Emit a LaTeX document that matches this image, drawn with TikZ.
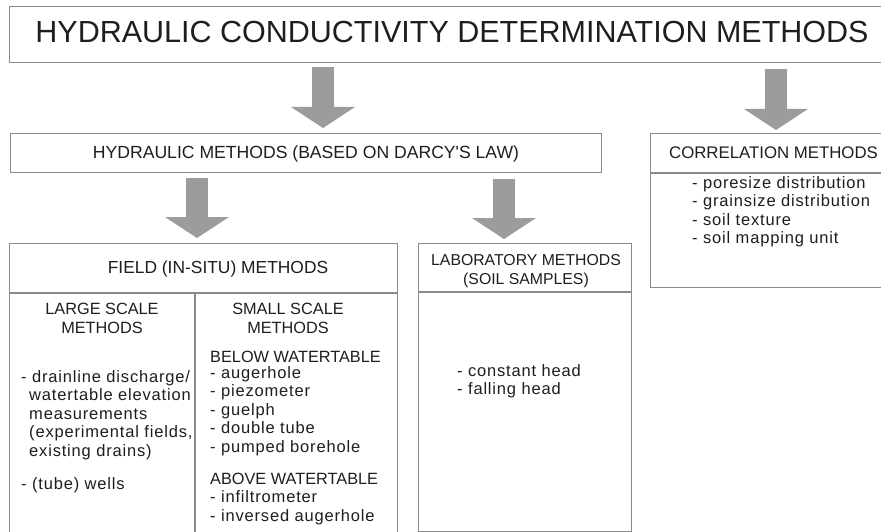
\documentclass[tikz,border=0pt]{standalone}
\usepackage{fontspec}
\setmainfont{Liberation Sans}
\newfontfamily\itemfont[LetterSpace=5]{Liberation Sans}
\usetikzlibrary{arrows.meta}
\definecolor{linegray}{HTML}{8A8A8A}
\definecolor{arrowgray}{HTML}{9C9C9C}
\definecolor{txt}{HTML}{1E1E1E}
\begin{document}
\begin{tikzpicture}[x=1pt,y=-1pt,
  box/.style={draw=linegray, line width=1.1pt, inner sep=0pt, anchor=north west},
  sep/.style={draw=linegray, line width=1.1pt},
  hdr/.style={text=txt, inner sep=0pt, anchor=base},
  sub/.style={text=txt, inner sep=0pt, anchor=base, font=\fontsize{16.3}{19}\selectfont},
  item/.style={text=txt, inner sep=0pt, anchor=base west, font=\itemfont\fontsize{16.5}{18}\selectfont},
  blockarrow/.style={draw=arrowgray, line width=22pt,
    -{Triangle[width=64pt,length=21pt,line width=0pt]}}]
\fill[white] (0,0) rectangle (881,532);
\useasboundingbox (0,0) rectangle (881,532);

% boxes
\node[box, minimum width=886pt, minimum height=56pt] (titlebox) at (9,6) {};
\node[box, minimum width=591pt, minimum height=39pt] (hydbox) at (10,133) {};
\node[box, minimum width=300pt, minimum height=154pt] (corrbox) at (650,133) {};
\node[box, minimum width=388pt, minimum height=295pt] (fieldbox) at (9,243) {};
\node[box, minimum width=213pt, minimum height=288pt] (labbox) at (418,243) {};

% separators
\coordinate (corrsep) at (0,173);
\coordinate (fieldsep) at (0,293);
\coordinate (labsep) at (0,292);
\coordinate (divx) at (195,0);
\draw[sep] (corrbox.west |- corrsep) -- (corrbox.east |- corrsep);
\draw[sep] (fieldbox.west |- fieldsep) -- (fieldbox.east |- fieldsep);
\draw[sep] (labbox.west |- labsep) -- (labbox.east |- labsep);
\draw[sep] (divx |- fieldsep) -- (divx |- fieldbox.south);

% arrows
\coordinate (a1) at (323,0);
\coordinate (a2) at (776,0);
\coordinate (a3) at (197,0);
\coordinate (a4) at (504,0);
\draw[blockarrow, shorten <=4pt, shorten >=5pt] (a1 |- titlebox.south) -- (a1 |- hydbox.north);
\draw[blockarrow, shorten <=6pt, shorten >=3pt] (a2 |- titlebox.south) -- (a2 |- corrbox.north);
\draw[blockarrow, shorten <=5pt, shorten >=5pt] (a3 |- hydbox.south) -- (a3 |- fieldbox.north);
\draw[blockarrow, shorten <=6pt, shorten >=4pt] (a4 |- hydbox.south) -- (a4 |- labbox.north);

% texts
\node[hdr, font=\fontsize{30.5}{36}\selectfont] (title) at (452,43) {HYDRAULIC CONDUCTIVITY DETERMINATION METHODS};
\node[hdr, font=\fontsize{17.6}{20}\selectfont] (hyd) at (306,159) {HYDRAULIC METHODS (BASED ON DARCY\textquotesingle S LAW)};
\node[hdr, font=\fontsize{16.8}{20}\selectfont] (corr) at (773.5,159) {CORRELATION METHODS};
\node[hdr, font=\fontsize{17.4}{20}\selectfont] (field) at (218,273) {FIELD (IN-SITU) METHODS};
\node[hdr, font=\fontsize{15.8}{19}\selectfont] (lab1) at (526,265) {LABORATORY METHODS};
\node[hdr, font=\fontsize{15.8}{19}\selectfont] (lab2) at (526,284) {(SOIL SAMPLES)};

\foreach \t [count=\i] in {{- poresize distribution},{- grainsize distribution},{- soil texture},{- soil mapping unit}}
  \node[item] (corritem\i) at (692,188+18.5*\i-18.5) {\t};

\node[sub] (large1) at (102,314) {LARGE SCALE};
\node[sub] (large2) at (102,333) {METHODS};
\node[sub] (small1) at (288,314) {SMALL SCALE};
\node[sub] (small2) at (288,333) {METHODS};

\node[item] (l1) at (21,382) {- drainline discharge/};
\node[item] (l2) at (29,400.5) {watertable elevation};
\node[item] (l3) at (29,419) {measurements};
\node[item] (l4) at (29,437.5) {(experimental fields,};
\node[item] (l5) at (29,456) {existing drains)};
\node[item] (l6) at (21,489) {- (tube) wells};

\node[sub, anchor=base west] (below) at (210,362) {BELOW WATERTABLE};
\foreach \t [count=\i] in {{- augerhole},{- piezometer},{- guelph},{- double tube},{- pumped borehole}}
  \node[item] (bitem\i) at (210,378+18.5*\i-18.5) {\t};
\node[sub, anchor=base west] (above) at (210,484) {ABOVE WATERTABLE};
\node[item] (aitem1) at (210,502) {- infiltrometer};
\node[item] (aitem2) at (210,521) {- inversed augerhole};

\node[item] (lab3) at (457,376) {- constant head};
\node[item] (lab4) at (457,394) {- falling head};
\end{tikzpicture}
\end{document}
